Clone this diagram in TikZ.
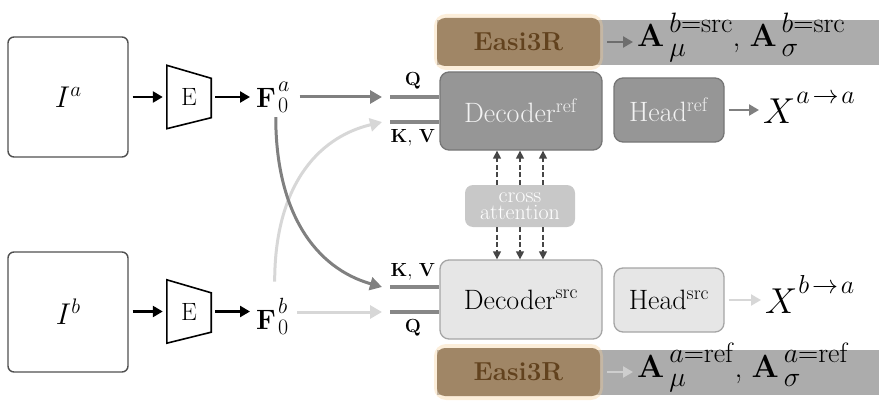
\RequirePackage{fix-cm}
\documentclass[tikz,border=0pt]{standalone}
\usepackage{amsmath}
\usetikzlibrary{arrows.meta,calc}

\definecolor{framegray}{RGB}{80,80,80}
\definecolor{darkfill}{RGB}{150,150,150}
\definecolor{darkedge}{RGB}{118,118,118}
\definecolor{lightfill}{RGB}{230,230,230}
\definecolor{lightedge}{RGB}{165,165,165}
\definecolor{crossfill}{RGB}{200,200,200}
\definecolor{darkflow}{RGB}{128,128,128}
\definecolor{lightflow}{RGB}{215,215,215}
\definecolor{stubgray}{RGB}{135,135,135}
\definecolor{bannergray}{RGB}{172,172,172}
\definecolor{easifill}{RGB}{160,134,102}
\definecolor{easitext}{RGB}{98,66,30}
\definecolor{easiglow}{RGB}{245,205,150}
\definecolor{dashgray}{RGB}{70,70,70}
\definecolor{textlight}{RGB}{242,242,242}

\newcommand\fsz[1]{\fontsize{#1}{#1}\selectfont}
% raised superscript set at its own size
\newcommand\Sup[3]{\raise#2\hbox{\fsz{#1}$#3$}}
% superscript and subscript stacked: size, raise, sup, lower, sub
\newcommand\SupSub[5]{\hbox{\fsz{#1}\rlap{\lower#4\hbox{$#5$}}\raise#2\hbox{$#3$}}}

\begin{document}
\begin{tikzpicture}[x=1pt,y=-1pt,
  imgbox/.style={draw=framegray, line width=1.4pt, rounded corners=6pt,
    minimum width=120pt, minimum height=120pt, inner sep=0pt, font=\fsz{30}},
  enc/.style={inner sep=0pt, minimum width=44pt, minimum height=63pt, font=\fsz{25}},
  encshape/.style={line width=1.6pt, line join=miter},
  feat/.style={inner sep=0pt, anchor=base west, font=\fsz{28}},
  blackarrow/.style={line width=2.4pt, -{Triangle[length=10pt,width=11pt]}},
  flow/.style={line width=3pt, -{Triangle[length=12pt,width=13pt]}},
  stub/.style={line width=3.2pt, stubgray},
  qkv/.style={inner sep=0pt, font=\fsz{19}},
  darkblk/.style={rounded corners=9pt, fill=darkfill, draw=darkedge, line width=1.3pt,
    text=textlight, font=\fsz{28}, inner sep=0pt},
  lightblk/.style={rounded corners=9pt, fill=lightfill, draw=lightedge, line width=1.3pt,
    font=\fsz{28}, inner sep=0pt},
  crossblk/.style={rounded corners=8pt, fill=crossfill, text=white, inner sep=0pt,
    minimum width=110pt, minimum height=42pt, align=center, font=\fontsize{22}{16.5}\selectfont},
  dasharrow/.style={dashgray, line width=1.4pt, dash pattern=on 5pt off 2.5pt,
    -{Triangle[length=8pt,width=8pt]}},
  banner/.style={fill=bannergray, inner sep=0pt, minimum width=442pt, minimum height=45pt},
  glow/.style={fill=easiglow, rounded corners=12pt, inner sep=0pt},
  easi/.style={fill=easifill, text=easitext, rounded corners=8pt, inner sep=0pt,
    minimum width=163pt, minimum height=48pt, font=\bfseries\fsz{26}},
  outmath/.style={inner sep=0pt, anchor=base west, font=\fsz{32}},
  xout/.style={inner sep=0pt, anchor=base west, font=\fsz{36}},
  smallflow/.style={line width=2.6pt, -{Triangle[length=10pt,width=11pt]}},
]
\path[use as bounding box] (0,0) rectangle (884,404);

% Easi3R banners (drawn first so everything else sits on top)
\node (bantop) [banner] at (658,42.5) {};
\node [glow, opacity=0.35, minimum width=169pt, minimum height=56pt] at (518.5,42) {};
\node (easitop) [easi] at (518.5,42) {Easi3R};
\node (atop) [outmath] at (637,47)
  {$\mathbf{A}$\kern5pt\SupSub{28}{14.5pt}{b{=}\mathrm{src}}{9.5pt}{\mu},\kern9pt%
   $\mathbf{A}$\kern5pt\SupSub{28}{14.5pt}{b{=}\mathrm{src}}{9.5pt}{\sigma}};
\coordinate (tt) at (0,42);
\draw[smallflow, darkflow!85!black] ([xshift=7pt]easitop.east |- tt) -- ([xshift=-4pt]atop.west |- tt);

\node (banbot) [banner] at (658,372.5) {};
\node [glow, opacity=0.35, minimum width=169pt, minimum height=56pt] at (518.5,372) {};
\node (easibot) [easi] at (518.5,372) {Easi3R};
\node (abot) [outmath] at (637,377)
  {$\mathbf{A}$\kern5pt\SupSub{28}{14.5pt}{a{=}\mathrm{ref}}{9.5pt}{\mu},\kern9pt%
   $\mathbf{A}$\kern5pt\SupSub{28}{14.5pt}{a{=}\mathrm{ref}}{9.5pt}{\sigma}};
\coordinate (tb) at (0,372);
\draw[smallflow, lightflow!90!gray] ([xshift=7pt]easibot.east |- tb) -- ([xshift=-4pt]abot.west |- tb);

% input images
\node (Ia) [imgbox] at (68,97) {$I$\Sup{21}{11pt}{a}};
\node (Ib) [imgbox] at (68,312) {$I$\Sup{21}{11pt}{b}};

% encoders
\node (Ea) [enc] at (189,97) {E};
\draw[encshape] (Ea.north west) -- ([yshift=-13pt]Ea.north east)
  -- ([yshift=11pt]Ea.south east) -- (Ea.south west) -- cycle;
\node (Eb) [enc] at (189,311.5) {E};
\draw[encshape] (Eb.north west) -- ([yshift=-13pt]Eb.north east)
  -- ([yshift=11pt]Eb.south east) -- (Eb.south west) -- cycle;

% features
\node (Fa) [feat] at (256,107) {$\mathbf{F}$\kern2pt\SupSub{22}{16pt}{a}{5pt}{0}};
\node (Fb) [feat] at (256,329) {$\mathbf{F}$\kern2pt\SupSub{22}{16pt}{b}{5pt}{0}};

\draw[blackarrow] ([xshift=4pt]Ia.east |- Ea.west) -- ([xshift=-4pt]Ea.west);
\draw[blackarrow] ([xshift=4pt]Ea.east) -- ([xshift=-6pt]Ea.east -| Fa.west);
\draw[blackarrow] ([xshift=4pt]Ib.east |- Eb.west) -- ([xshift=-4pt]Eb.west);
\draw[blackarrow] ([xshift=4pt]Eb.east) -- ([xshift=-6pt]Eb.east -| Fb.west);

% decoders
\node (Dref) [darkblk, minimum width=162pt, minimum height=78pt] at (521,111)
  {Decoder$^{\mathrm{ref}}$};
\node (Dsrc) [lightblk, minimum width=162pt, minimum height=79pt] at (521,299.5)
  {Decoder$^{\mathrm{src}}$};

% input stubs of the decoders
\coordinate (qa) at (390,97);
\coordinate (kva) at (390,122);
\coordinate (kvb) at (390,287);
\coordinate (qb) at (390,312);
\draw[stub] (qa) -- (qa -| Dref.west);
\draw[stub] (kva) -- (kva -| Dref.west);
\draw[stub] (kvb) -- (kvb -| Dsrc.west);
\draw[stub] (qb) -- (qb -| Dsrc.west);
\node (qla) [qkv] at (413,81) {$\mathbf{Q}$};
\node (kvla) [qkv] at (413,138) {$\mathbf{K},\,\mathbf{V}$};
\node (kvlb) [qkv] at (413,272) {$\mathbf{K},\,\mathbf{V}$};
\node (qlb) [qkv] at (413,328) {$\mathbf{Q}$};

% feature routing
\draw[flow, darkflow] ([xshift=10pt]Fa.east |- qa) -- ([xshift=-8pt]qa);
\draw[flow, lightflow] ([xshift=10pt]Fb.east |- qb) -- ([xshift=-8pt]qb);
\coordinate (fa-out) at ($(Fa.south)+(3,5)$);
\coordinate (fb-out) at ($(Fb.north)+(3,-16)$);
\draw[flow, lightflow] (fb-out) .. controls ($(fb-out)+(0,-92)$) and (315,138) .. ([xshift=-8pt]kva);
\draw[flow, darkflow] (fa-out) .. controls ($(fa-out)+(0,95)$) and (315,268) .. ([xshift=-8pt]kvb);

% cross attention between the decoders
\node (cross) [crossblk] at (520,206) {cross\\attention};
\foreach \dx in {-23,0,23} {
  \draw[dasharrow] ([xshift=\dx pt]cross.north) -- ([xshift=\dx pt]cross.north |- Dref.south);
  \draw[dasharrow] ([xshift=\dx pt]cross.south) -- ([xshift=\dx pt]cross.south |- Dsrc.north);
}

% heads and outputs
\node (Href) [darkblk, minimum width=110pt, minimum height=64pt] at (669,110)
  {Head$^{\mathrm{ref}}$};
\node (Hsrc) [lightblk, minimum width=110pt, minimum height=64pt] at (669,300)
  {Head$^{\mathrm{src}}$};
\node (Xa) [xout] at (763,123) {$X$\kern1pt\Sup{26}{20pt}{a\mkern2mu{\to}\mkern2mu a}};
\node (Xb) [xout] at (765,313) {$X$\kern1pt\Sup{26}{20pt}{b\mkern2mu{\to}\mkern2mu a}};
\draw[smallflow, darkflow] ([xshift=4pt]Href.east) -- ([xshift=-4pt]Href.east -| Xa.west);
\draw[smallflow, lightflow] ([xshift=4pt]Hsrc.east) -- ([xshift=-4pt]Hsrc.east -| Xb.west);
\end{tikzpicture}
\end{document}
